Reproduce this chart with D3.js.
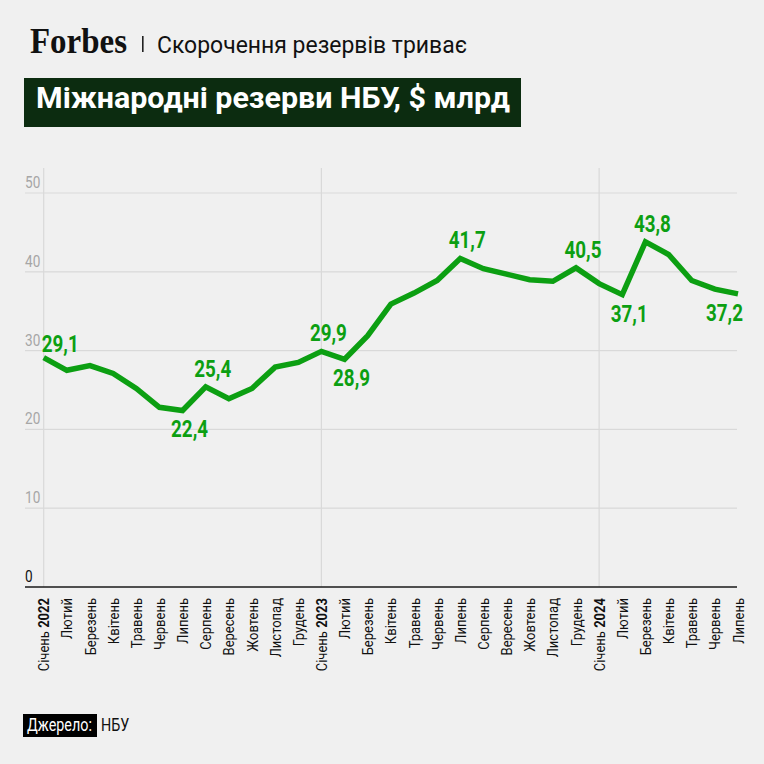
<!DOCTYPE html>
<html>
<head>
<meta charset="utf-8">
<script src="https://cdn.jsdelivr.net/npm/d3@7"></script>
<style>
  html, body { margin: 0; padding: 0; background: #f0f0f0; }
  svg { display: block; }
  text { font-family: "Roboto", "Noto Sans", sans-serif; }
</style>
</head>
<body>
<div id="viz"></div>
<script>
var w = 764;
var h = 764;

// data
var months = ["Січень 2022", "Лютий", "Березень", "Квітень", "Травень", "Червень", "Липень",
    "Серпень", "Вересень", "Жовтень", "Листопад", "Грудень",
    "Січень 2023", "Лютий", "Березень", "Квітень", "Травень", "Червень", "Липень",
    "Серпень", "Вересень", "Жовтень", "Листопад", "Грудень",
    "Січень 2024", "Лютий", "Березень", "Квітень", "Травень", "Червень", "Липень"];
var reserves = [29.1, 27.5, 28.1, 27.1, 25.2, 22.8, 22.4, 25.4, 23.9, 25.2, 27.9, 28.5,
    29.9, 28.9, 31.9, 35.9, 37.3, 38.9, 41.7, 40.4, 39.7, 39.0, 38.8, 40.5,
    38.5, 37.1, 43.8, 42.2, 38.9, 37.8, 37.2];
var yTicks = [0, 10, 20, 30, 40, 50];
var labelled = [0, 6, 7, 12, 13, 18, 23, 25, 26, 30];
var labelSide = ["start", "below", "above", "above", "below", "above", "above", "below", "above", "end"];

var green = "#0c9f12";
var squeeze = 0.8; // condensed look

var svg = d3.select("#viz")
    .append("svg")
    .attr("width", w)
    .attr("height", h);

svg.append("rect")
    .attr("width", w)
    .attr("height", h)
    .attr("fill", "#f0f0f0");

// header
svg.append("text")
    .attr("x", 30)
    .attr("y", 53)
    .style("font-family", "Liberation Serif, DejaVu Serif, serif")
    .attr("font-weight", "bold")
    .attr("font-size", 35)
    .attr("textLength", 97)
    .attr("lengthAdjust", "spacingAndGlyphs")
    .attr("fill", "#111")
    .text("Forbes");

svg.append("rect")
    .attr("x", 142)
    .attr("y", 36)
    .attr("width", 1.6)
    .attr("height", 16)
    .attr("fill", "#222");

svg.append("text")
    .attr("x", 157)
    .attr("y", 53)
    .attr("font-size", 24)
    .attr("textLength", 310)
    .attr("lengthAdjust", "spacingAndGlyphs")
    .attr("fill", "#111")
    .text("Скорочення резервів триває");

svg.append("rect")
    .attr("x", 24)
    .attr("y", 78)
    .attr("width", 497)
    .attr("height", 49)
    .attr("fill", "#0c2c10");

svg.append("text")
    .attr("x", 36)
    .attr("y", 108)
    .attr("font-size", 29.5)
    .attr("font-weight", "bold")
    .attr("textLength", 474)
    .attr("lengthAdjust", "spacingAndGlyphs")
    .attr("fill", "#fff")
    .text("Міжнародні резерви НБУ, $ млрд");

// scales
var x = d3.scaleLinear()
    .domain([0, months.length - 1])
    .range([43.7, 738]);

var y = d3.scaleLinear()
    .domain([0, 50])
    .range([587, 193]);

var gridLeft = 25;
var gridRight = 737;

var chart = svg.append("g").attr("class", "chart");

// horizontal grid
chart.append("g").selectAll("line")
    .data(yTicks.filter(function (d) { return d > 0; }))
    .enter()
    .append("line")
    .attr("x1", gridLeft)
    .attr("x2", gridRight)
    .attr("y1", function (d) { return y(d); })
    .attr("y2", function (d) { return y(d); })
    .attr("stroke", "#d9d9d9")
    .attr("stroke-width", 1.2);

// vertical year lines
chart.append("g").selectAll("line")
    .data([0, 12, 24])
    .enter()
    .append("line")
    .attr("x1", function (d) { return x(d); })
    .attr("x2", function (d) { return x(d); })
    .attr("y1", 168)
    .attr("y2", y(0))
    .attr("stroke", "#d9d9d9")
    .attr("stroke-width", 1.2);

// y labels
chart.append("g").selectAll("text")
    .data(yTicks)
    .enter()
    .append("text")
    .attr("transform", function (d) {
        return "translate(" + gridLeft + "," + (y(d) - 5) + ") scale(" + squeeze + ",1)";
    })
    .attr("font-size", 17)
    .attr("fill", function (d) { return d == 0 ? "#111" : "#a6a6a6"; })
    .text(function (d) { return d; });

// baseline
chart.append("line")
    .attr("x1", gridLeft)
    .attr("x2", gridRight)
    .attr("y1", y(0))
    .attr("y2", y(0))
    .attr("stroke", "#1a1a1a")
    .attr("stroke-width", 1.6);

// month labels
var mlab = chart.append("g").selectAll("text")
    .data(months)
    .enter()
    .append("text")
    .attr("transform", function (d, i) {
        return "translate(" + x(i) + "," + (y(0) + 11) + ") rotate(-90) scale(0.84,1)";
    })
    .attr("text-anchor", "end")
    .attr("dy", "0.36em")
    .attr("font-size", 15.5)
    .attr("fill", "#111");

mlab.each(function (d) {
    var t = d3.select(this);
    var parts = d.split(" ");
    t.append("tspan").text(parts[0]);
    if (parts.length > 1) {
        t.append("tspan")
            .attr("font-weight", "bold")
            .text(" " + parts[1]);
    }
});

// line
var line = d3.line()
    .x(function (d, i) { return x(i); })
    .y(function (d) { return y(d); });

chart.append("path")
    .datum(reserves)
    .attr("d", line)
    .attr("fill", "none")
    .attr("stroke", green)
    .attr("stroke-width", 5.5)
    .attr("stroke-linejoin", "miter");

// value labels
var fmt = d3.format(".1f");

chart.append("g").selectAll("text")
    .data(labelled)
    .enter()
    .append("text")
    .attr("font-size", 23.5)
    .attr("font-weight", "bold")
    .attr("fill", green)
    .attr("text-anchor", function (d, k) {
        var s = labelSide[k];
        if (s == "start") return "start";
        if (s == "end") return "end";
        return "middle";
    })
    .attr("transform", function (d, k) {
        var s = labelSide[k];
        var lx = x(d) + 7;
        if (s == "start") lx = x(d) - 2;
        if (s == "end") lx = x(d) + 5;
        var ly = y(reserves[d]) - 10;
        if (s == "below" || s == "end") ly = y(reserves[d]) + 27;
        if (s == "start") ly = y(reserves[d]) - 6;
        return "translate(" + lx + "," + ly + ") scale(" + squeeze + ",1)";
    })
    .text(function (d) { return fmt(reserves[d]).replace(".", ","); });

// source
svg.append("rect")
    .attr("x", 23)
    .attr("y", 714)
    .attr("width", 74)
    .attr("height", 23)
    .attr("fill", "#000");

svg.append("text")
    .attr("transform", "translate(27,731) scale(0.82,1)")
    .attr("font-size", 17.5)
    .attr("fill", "#fff")
    .text("Джерело:");

svg.append("text")
    .attr("transform", "translate(101,731) scale(0.82,1)")
    .attr("font-size", 17.5)
    .attr("fill", "#111")
    .text("НБУ");
</script>
</body>
</html>
